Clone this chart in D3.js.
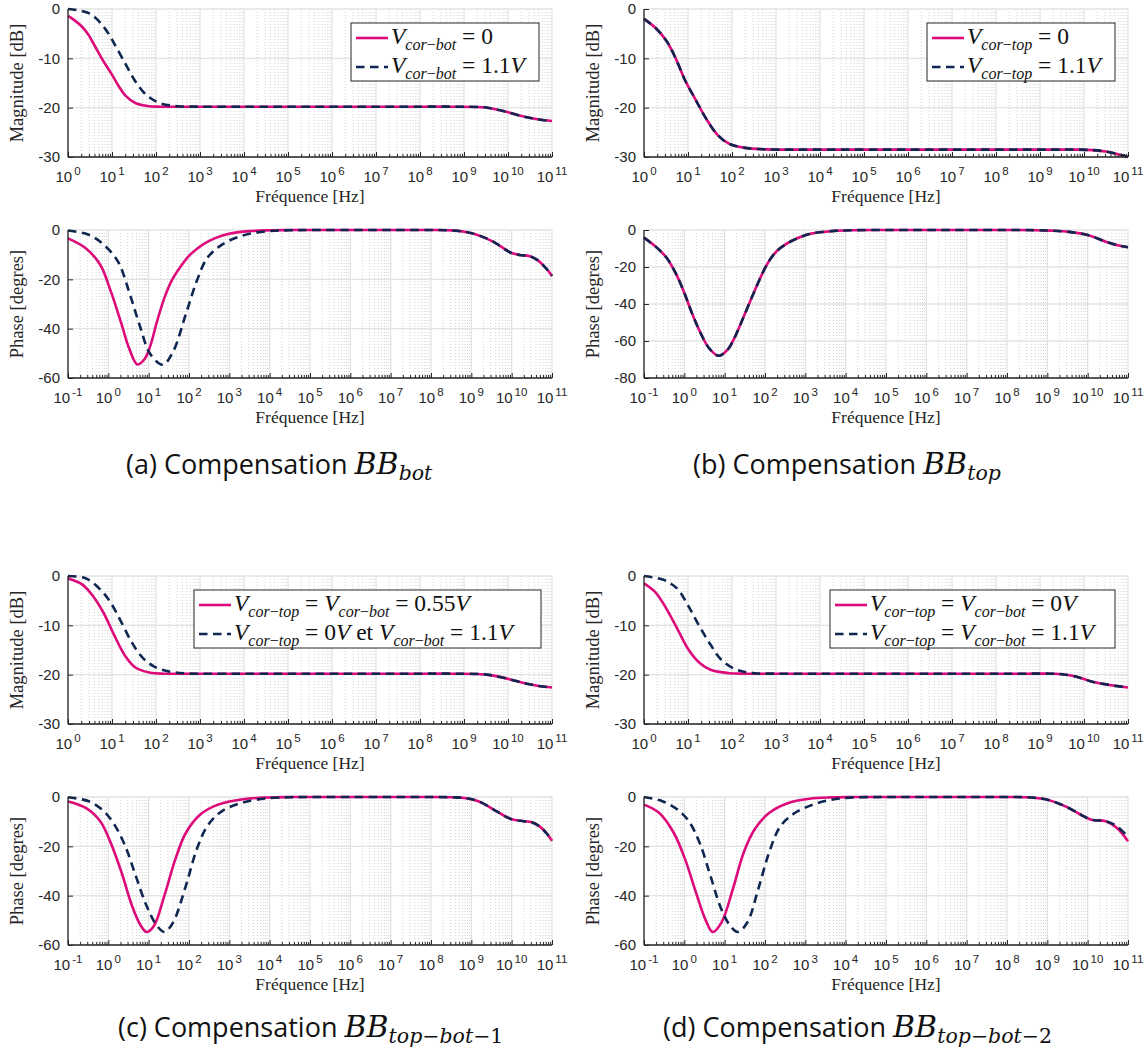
<!DOCTYPE html>
<html><head><meta charset="utf-8">
<script src="https://cdn.jsdelivr.net/npm/d3@7"></script>
<style>body{margin:0;background:#fff} svg{display:block}</style>
</head><body><svg id="c" width="1148" height="1055"></svg>
<script>
// ===== DATA: [log10(frequency in Hz), value] =====
// (a) Compensation BB_bot
const magA_solid = [[0,-1.4],[0.15,-2.3],[0.32,-3.6],[0.47,-5.3],[0.61,-7.5],[0.8,-10.5],[1.0,-13.3],[1.15,-15.6],[1.3,-17.5],[1.54,-19.1],[1.8,-19.65],[2.1,-19.8],[3,-19.8],[4,-19.8],[5,-19.8],[6,-19.8],[7,-19.8],[8,-19.8],[8.7,-19.8],[9.3,-19.85],[9.6,-20.1],[9.98,-20.9],[10.4,-21.9],[10.7,-22.4],[11,-22.7]];
const magA_dash  = [[0,0],[0.2,-0.2],[0.49,-0.9],[0.65,-2.0],[0.81,-3.6],[0.95,-5.4],[1.05,-7.0],[1.3,-11],[1.54,-14.8],[1.79,-17.5],[2.1,-19.1],[2.5,-19.7],[3,-19.8],[4,-19.8],[5,-19.8],[6,-19.8],[7,-19.8],[8,-19.8],[8.7,-19.8],[9.3,-19.85],[9.6,-20.1],[9.98,-20.9],[10.4,-21.9],[10.7,-22.4],[11,-22.7]];
const phA_solid  = [[-1,-3.4],[-0.56,-7.4],[-0.2,-14.1],[0.06,-24.8],[0.33,-38.3],[0.51,-47.7],[0.72,-54.5],[0.9,-52.3],[1.04,-47],[1.2,-37.5],[1.39,-27.5],[1.57,-20.5],[1.75,-15.8],[2.01,-10.3],[2.2,-7.6],[2.37,-5.6],[2.65,-3.3],[2.99,-1.5],[3.5,-0.45],[4,-0.12],[4.5,-0.03],[5,0],[6,0],[7,0],[8,0],[8.5,-0.15],[8.83,-0.7],[9.1,-1.7],[9.54,-4.7],[9.98,-9.2],[10.2,-10.1],[10.45,-10.6],[10.65,-12.3],[10.85,-15.5],[11,-18.6]];
const phA_dash   = [[-1,-0.2],[-0.47,-2],[-0.11,-6],[0.24,-12.8],[0.51,-24.8],[0.77,-38.3],[1.04,-50.3],[1.35,-54.6],[1.6,-49.5],[1.92,-34.2],[2.19,-20.8],[2.45,-11.4],[2.81,-6],[3.34,-2.2],[3.96,-0.5],[4.5,-0.1],[5,0],[6,0],[7,0],[8,0],[8.5,-0.15],[8.83,-0.7],[9.1,-1.7],[9.54,-4.7],[9.98,-9.2],[10.2,-10.1],[10.45,-10.6],[10.65,-12.3],[10.85,-15.5],[11,-18.6]];
// (b) Compensation BB_top (both settings overlap)
const magB_solid = [[0,-2.0],[0.27,-3.9],[0.52,-6.6],[0.72,-10],[0.93,-14.4],[1.18,-18.5],[1.43,-22.5],[1.68,-25.6],[1.93,-27.3],[2.26,-28.1],[2.76,-28.45],[3.5,-28.5],[4.5,-28.5],[5.5,-28.5],[6.5,-28.5],[7.5,-28.5],[8.5,-28.5],[9.3,-28.5],[9.8,-28.5],[10.2,-28.6],[10.5,-28.9],[10.8,-29.5],[11,-30]];
const magB_dash  = [[0,-2.0],[0.27,-3.9],[0.52,-6.6],[0.72,-10],[0.93,-14.4],[1.18,-18.5],[1.43,-22.5],[1.68,-25.6],[1.93,-27.3],[2.26,-28.1],[2.76,-28.45],[3.5,-28.5],[4.5,-28.5],[5.5,-28.5],[6.5,-28.5],[7.5,-28.5],[8.5,-28.5],[9.3,-28.5],[9.8,-28.5],[10.2,-28.6],[10.5,-28.9],[10.8,-29.5],[11,-30]];
const phB_solid  = [[-1,-4.1],[-0.71,-9],[-0.44,-15],[-0.2,-24],[0,-34],[0.2,-45.6],[0.38,-54.6],[0.6,-63.5],[0.85,-68],[1.08,-64.5],[1.25,-58],[1.45,-48],[1.72,-34],[2.0,-20.6],[2.15,-15.2],[2.3,-11.2],[2.5,-7.9],[2.72,-5.3],[3.1,-2.2],[3.65,-0.6],[4.2,-0.1],[5,0],[6,0],[7,0],[8,0],[8.7,-0.1],[9.1,-0.35],[9.54,-1.0],[10,-2.7],[10.45,-6.3],[10.75,-8.3],[11,-9.3]];
const phB_dash   = [[-1,-4.1],[-0.71,-9],[-0.44,-15],[-0.2,-24],[0,-34],[0.2,-45.6],[0.38,-54.6],[0.6,-63.5],[0.85,-68],[1.08,-64.5],[1.25,-58],[1.45,-48],[1.72,-34],[2.0,-20.6],[2.15,-15.2],[2.3,-11.2],[2.5,-7.9],[2.72,-5.3],[3.1,-2.2],[3.65,-0.6],[4.2,-0.1],[5,0],[6,0],[7,0],[8,0],[8.7,-0.1],[9.1,-0.35],[9.54,-1.0],[10,-2.7],[10.45,-6.3],[10.75,-8.3],[11,-9.3]];
// (c) Compensation BB_top-bot-1
const magC_solid = [[0,-0.5],[0.32,-1.7],[0.57,-4.1],[0.81,-7.5],[1.05,-12.0],[1.3,-16.2],[1.54,-18.6],[1.87,-19.6],[2.19,-19.8],[3,-19.8],[4,-19.8],[5,-19.8],[6,-19.8],[7,-19.8],[8,-19.8],[8.7,-19.8],[9.3,-19.85],[9.6,-20.1],[9.98,-20.8],[10.4,-21.8],[10.7,-22.3],[11,-22.6]];
const magC_dash  = [[0,0],[0.41,-0.5],[0.73,-2.7],[0.97,-5.4],[1.22,-9.5],[1.46,-13.6],[1.7,-16.6],[1.95,-18.3],[2.27,-19.3],[2.68,-19.75],[3.2,-19.8],[4,-19.8],[5,-19.8],[6,-19.8],[7,-19.8],[8,-19.8],[8.7,-19.8],[9.3,-19.85],[9.6,-20.1],[9.98,-20.8],[10.4,-21.8],[10.7,-22.3],[11,-22.6]];
const phC_solid  = [[-1,-1.8],[-0.56,-4.4],[-0.2,-9.8],[0.06,-18.6],[0.33,-30.7],[0.59,-44.2],[0.8,-52],[0.95,-54.7],[1.13,-52.3],[1.39,-40],[1.66,-25.3],[1.92,-14.6],[2.28,-7.1],[2.72,-3.1],[3.34,-0.9],[3.96,-0.2],[4.5,-0.03],[5,0],[6,0],[7,0],[8,0],[8.5,-0.1],[8.83,-0.4],[9.19,-1.8],[9.63,-5.8],[9.98,-8.9],[10.3,-9.8],[10.5,-10.2],[10.7,-12],[10.88,-15],[11,-17.7]];
const phC_dash   = [[-1,-0.1],[-0.47,-1.8],[-0.11,-5.8],[0.15,-11.2],[0.42,-19.9],[0.68,-32],[0.95,-44.2],[1.21,-52.3],[1.39,-54.7],[1.6,-51],[1.92,-36.1],[2.19,-21.3],[2.45,-11.9],[2.81,-5.8],[3.34,-2.2],[3.96,-0.5],[4.5,-0.1],[5,0],[6,0],[7,0],[8,0],[8.5,-0.1],[8.83,-0.4],[9.19,-1.8],[9.63,-5.8],[9.98,-8.9],[10.3,-9.8],[10.5,-10.2],[10.7,-12],[10.88,-15],[11,-17.7]];
// (d) Compensation BB_top-bot-2
const magD_solid = [[0,-1.5],[0.27,-3.4],[0.52,-6.8],[0.77,-10.9],[1.01,-14.9],[1.26,-17.6],[1.51,-19.0],[1.93,-19.7],[2.3,-19.8],[3,-19.8],[4,-19.8],[5,-19.8],[6,-19.8],[7,-19.8],[8,-19.8],[8.7,-19.8],[9.3,-19.8],[9.5,-19.9],[9.83,-20.4],[10.17,-21.4],[10.58,-22.1],[11,-22.6]];
const magD_dash  = [[0,0],[0.43,-0.7],[0.6,-1.5],[0.77,-2.7],[1.01,-6.1],[1.26,-10.2],[1.51,-13.9],[1.76,-17],[2.1,-19],[2.51,-19.7],[3,-19.8],[4,-19.8],[5,-19.8],[6,-19.8],[7,-19.8],[8,-19.8],[8.7,-19.8],[9.3,-19.8],[9.5,-19.9],[9.83,-20.4],[10.17,-21.4],[10.58,-22.1],[11,-22.6]];
const phD_solid  = [[-1,-3.1],[-0.62,-6.5],[-0.26,-14.6],[0.02,-25.3],[0.29,-38.8],[0.52,-49.6],[0.7,-54.7],[0.92,-50.9],[1.2,-37.5],[1.47,-22.6],[1.74,-13.2],[2.1,-6.5],[2.56,-2.5],[3.1,-0.7],[3.65,-0.15],[4.2,-0.02],[5,0],[6,0],[7,0],[8,0],[8.6,-0.2],[9.0,-1.1],[9.45,-3.8],[9.82,-7.1],[10.09,-9.2],[10.45,-9.8],[10.72,-12.5],[11,-17.9]];
const phD_dash   = [[-1,0],[-0.53,-1.8],[-0.17,-5.1],[0.11,-9.8],[0.38,-18.6],[0.65,-32.1],[0.92,-45.6],[1.15,-52.5],[1.33,-54.7],[1.56,-50.9],[1.83,-37.5],[2.1,-22.6],[2.38,-11.9],[2.74,-6.5],[3.19,-3.1],[3.65,-1.1],[4.1,-0.25],[4.6,-0.05],[5.2,0],[6,0],[7,0],[8,0],[8.6,-0.2],[9.0,-1.1],[9.45,-3.8],[9.82,-7.1],[10.09,-9.2],[10.45,-9.8],[10.72,-11.8],[11,-16.2]];

// ===== TICKS & LABELS =====
const magTicks   = [0,-10,-20,-30];
const phTicks60  = [0,-20,-40,-60];
const phTicks80  = [0,-20,-40,-60,-80];
const xTitle = "Fréquence [Hz]";
const magTitle = "Magnitude [dB]";
const phTitle = "Phase [degres]";
const legendA = ["V_{cor−bot} = 0", "V_{cor−bot} = 1.1V"];
const legendB = ["V_{cor−top} = 0", "V_{cor−top} = 1.1V"];
const legendC = ["V_{cor−top} = V_{cor−bot} = 0.55V", "V_{cor−top} = 0V et V_{cor−bot} = 1.1V"];
const legendD = ["V_{cor−top} = V_{cor−bot} = 0V", "V_{cor−top} = V_{cor−bot} = 1.1V"];
const captions = [["(a) Compensation ","BB","bot"],["(b) Compensation ","BB","top"],["(c) Compensation ","BB","top−bot−1"],["(d) Compensation ","BB","top−bot−2"]];

// ===== STYLE / LAYOUT =====
const PINK = "#dc0a7a", NAVY = "#0f2750";
const W = 484, H = 148;
const SERIF = "'Liberation Serif','DejaVu Serif',serif";
const MATHSERIF = "'DejaVu Serif','Liberation Serif',serif";
const SANS = "'Liberation Sans',Arial,sans-serif";
const svg = d3.select("#c");

const panels = [
  {x0:68,  magTop:9,   phTop:230, mag:[magA_solid,magA_dash], ph:[phA_solid,phA_dash], phDom:[-60,0], phT:phTicks60, leg:legendA, lb:{x:351,y:23,w:188,h:58}, cap:captions[0], capX:126, capY:474},
  {x0:644, magTop:9,   phTop:230, mag:[magB_solid,magB_dash], ph:[phB_solid,phB_dash], phDom:[-80,0], phT:phTicks80, leg:legendB, lb:{x:927,y:23,w:188,h:58}, cap:captions[1], capX:693, capY:474},
  {x0:68,  magTop:576, phTop:797, mag:[magC_solid,magC_dash], ph:[phC_solid,phC_dash], phDom:[-60,0], phT:phTicks60, leg:legendC, lb:{x:194,y:590,w:347,h:58}, cap:captions[2], capX:118, capY:1037},
  {x0:644, magTop:576, phTop:797, mag:[magD_solid,magD_dash], ph:[phD_solid,phD_dash], phDom:[-60,0], phT:phTicks60, leg:legendD, lb:{x:830,y:590,w:285,h:58}, cap:captions[3], capX:663, capY:1037}
];

function addMath(textSel, str, size, subSize){
  const parts = str.split(/(_\{[^}]*\})/).filter(s=>s.length);
  let sub = false;
  parts.forEach(p=>{
    if(p.startsWith("_{")){
      const inner = p.slice(2,-1);
      const runs = inner.match(/[A-Za-z]+|[^A-Za-z]+/g);
      runs.forEach((r,i)=>{
        const ts = textSel.append("tspan").text(r).attr("font-size",subSize)
          .attr("font-style", /[A-Za-z]/.test(r) ? "italic" : "normal");
        if(i===0) ts.attr("dy", size*0.25);
      });
      sub = true;
    } else {
      const runs = p.match(/[A-Za-z]+|[^A-Za-z]+/g);
      runs.forEach((r,i)=>{
        const ts = textSel.append("tspan").text(r).attr("font-size",size)
          .attr("font-style", (/[A-Za-z]/.test(r) && r!=="et") ? "italic" : "normal");
        if(i===0 && sub){ ts.attr("dy", -size*0.25); sub=false; }
      });
    }
  });
}

function drawPlot(x0, top, lo, hi, yDom, yTicks, series, ytitle){
  const x = d3.scaleLog().domain([Math.pow(10,lo), Math.pow(10,hi)]).range([x0, x0+W]);
  const y = d3.scaleLinear().domain(yDom).range([top+H, top]);
  const g = svg.append("g");
  const bottom = top+H;
  for(let d=lo; d<hi; d++){
    for(let k=2;k<=9;k++){
      const xv = x(k*Math.pow(10,d));
      g.append("line").attr("x1",xv).attr("x2",xv).attr("y1",top).attr("y2",bottom)
        .attr("stroke","#c8c8c8").attr("stroke-width",0.8).attr("stroke-dasharray","1,2");
    }
  }
  const decs = d3.range(lo, hi+1);
  decs.forEach(d=>{
    const xv = x(Math.pow(10,d));
    g.append("line").attr("x1",xv).attr("x2",xv).attr("y1",top).attr("y2",bottom)
      .attr("stroke","#e3e3e3").attr("stroke-width",1.3);
  });
  yTicks.forEach(t=>{
    g.append("line").attr("x1",x0).attr("x2",x0+W).attr("y1",y(t)).attr("y2",y(t))
      .attr("stroke","#e3e3e3").attr("stroke-width",1.3);
  });
  const line = d3.line().x(d=>x(Math.pow(10,d[0]))).y(d=>y(d[1])).curve(d3.curveCatmullRom.alpha(0.5));
  g.append("path").datum(series[0]).attr("d",line).attr("fill","none")
    .attr("stroke",PINK).attr("stroke-width",2.6);
  g.append("path").datum(series[1]).attr("d",line).attr("fill","none")
    .attr("stroke",NAVY).attr("stroke-width",2.6).attr("stroke-dasharray","8.5,5.5");
  const ax = g.append("g").attr("transform",`translate(0,${bottom})`);
  const minor = [];
  for(let d=lo; d<hi; d++) for(let k=2;k<=9;k++) minor.push(k*Math.pow(10,d));
  ax.call(d3.axisBottom(x).tickValues(minor).tickSize(-3).tickFormat(""));
  ax.select(".domain").remove();
  ax.selectAll(".tick line").attr("stroke","#262626").attr("stroke-width",1);
  const axM = g.append("g").attr("transform",`translate(0,${bottom})`);
  axM.call(d3.axisBottom(x).tickValues(decs.map(d=>Math.pow(10,d))).tickSize(-5).tickFormat(""));
  axM.select(".domain").remove();
  axM.selectAll(".tick line").attr("stroke","#262626").attr("stroke-width",1);
  decs.forEach(d=>{
    const t = g.append("text").attr("x",x(Math.pow(10,d))).attr("y",bottom+25)
      .attr("text-anchor","middle").attr("font-family",SANS).attr("font-size",15).attr("fill","#262626");
    t.append("tspan").text("10");
    t.append("tspan").text(d).attr("font-size",11.5).attr("dy",-7).attr("dx",2);
  });
  const ay = g.append("g").attr("transform",`translate(${x0},0)`);
  ay.call(d3.axisLeft(y).tickValues(yTicks).tickSize(-5).tickFormat(d=>String(d)).tickPadding(8));
  ay.select(".domain").remove();
  ay.selectAll(".tick line").attr("stroke","#262626");
  ay.selectAll(".tick text").attr("font-family",SANS).attr("font-size",15).attr("fill","#262626");
  g.append("line").attr("x1",x0).attr("x2",x0+W).attr("y1",bottom).attr("y2",bottom).attr("stroke","#262626").attr("stroke-width",1.3);
  g.append("line").attr("x1",x0).attr("x2",x0).attr("y1",top).attr("y2",bottom).attr("stroke","#262626").attr("stroke-width",1.3);
  g.append("text").attr("x",x0+W/2).attr("y",bottom+45).attr("text-anchor","middle")
    .attr("font-family",SERIF).attr("font-size",17.5).attr("fill","#262626").text(xTitle);
  g.append("text").attr("transform",`translate(${x0-45},${top+H/2}) rotate(-90)`).attr("text-anchor","middle")
    .attr("font-family",SERIF).attr("font-size",18.5).attr("fill","#262626").text(ytitle);
}

panels.forEach(p=>{
  drawPlot(p.x0, p.magTop, 0, 11, [-30,0], magTicks, p.mag, magTitle);
  drawPlot(p.x0, p.phTop, -1, 11, p.phDom, p.phT, p.ph, phTitle);
  const lb = p.lb;
  const lg = svg.append("g");
  lg.append("rect").attr("x",lb.x).attr("y",lb.y).attr("width",lb.w).attr("height",lb.h)
    .attr("fill","#fff").attr("stroke","#262626").attr("stroke-width",1);
  [0,1].forEach(i=>{
    const cy = lb.y + 15 + i*29;
    lg.append("line").attr("x1",lb.x+5).attr("x2",lb.x+37).attr("y1",cy).attr("y2",cy)
      .attr("stroke", i===0?PINK:NAVY).attr("stroke-width",2.6)
      .attr("stroke-dasharray", i===0?null:"8.5,5.5");
    const t = lg.append("text").attr("x",lb.x+40).attr("y",cy+6)
      .attr("font-family",SERIF).attr("fill","#111");
    addMath(t, p.leg[i], 23.5, 16);
  });
  const c = svg.append("text").attr("x",p.capX).attr("y",p.capY).attr("fill","#111");
  c.append("tspan").text(p.cap[0]).attr("font-family","'Open Sans','DejaVu Sans',sans-serif").attr("font-size",27);
  c.append("tspan").text(p.cap[1]).attr("font-family",MATHSERIF).attr("font-style","italic").attr("font-size",30);
  const subRuns = p.cap[2].match(/[A-Za-z]+|[^A-Za-z]+/g);
  subRuns.forEach((r,i)=>{
    const ts = c.append("tspan").text(r).attr("font-family",MATHSERIF).attr("font-size",20.5)
      .attr("font-style", /[A-Za-z]/.test(r) ? "italic":"normal");
    if(i===0) ts.attr("dy",6);
  });
});
</script></body></html>
